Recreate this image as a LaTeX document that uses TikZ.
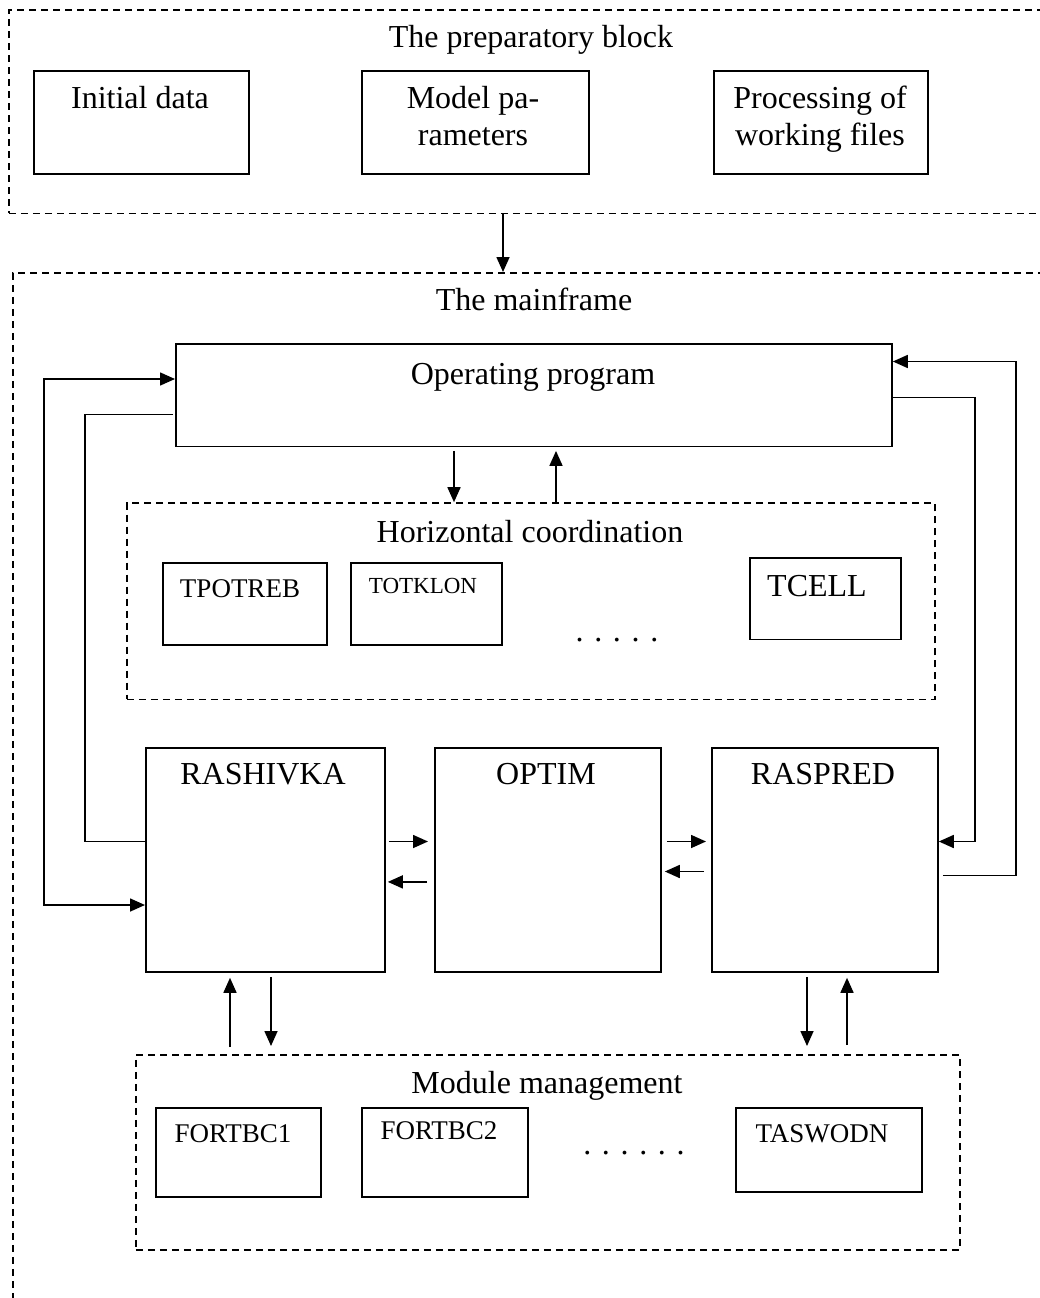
\documentclass[tikz,border=0pt]{standalone}
\usepackage{fontspec}
\setmainfont{Liberation Serif}
\usetikzlibrary{arrows.meta}
\begin{document}
\begin{tikzpicture}[x=1pt,y=-1pt,
  box/.style={draw,line width=1.8pt,inner sep=0pt,anchor=north west},
  grp/.style={draw,line width=1.5pt,dash pattern=on 7pt off 5pt,inner sep=0pt,anchor=north west},
  txt/.style={font=\fontsize{32}{37}\selectfont,inner sep=0pt,anchor=base},
  stxt/.style={font=\fontsize{27}{32}\selectfont,inner sep=0pt,anchor=base},
  tiny/.style={font=\fontsize{23}{27}\selectfont,inner sep=0pt,anchor=base},
  ln/.style={line width=1.8pt},
  arr/.style={line width=1.6pt,-{Triangle[length=15pt,width=13pt]}},
  dbl/.style={line width=1.6pt,{Triangle[length=15pt,width=13pt]}-{Triangle[length=15pt,width=13pt]}},
]
\useasboundingbox (0,0) rectangle (1040,1298);
\clip (0,0) rectangle (1040,1298);

% preparatory block
\node[grp,minimum width=1070pt,minimum height=203pt] (prep) at (8,9.5) {};
\node[txt] (prept) at (531,48) {The preparatory block};
\node[box,minimum width=215pt,minimum height=103pt] (init) at (33,70) {};
\node[txt] (initt) at (140,108) {Initial data};
\node[box,minimum width=227pt,minimum height=103pt] (model) at (361,70) {};
\node[txt] (modelt1) at (473,108) {Model pa-};
\node[txt] (modelt2) at (473,145) {rameters};
\node[box,minimum width=214pt,minimum height=103pt] (proc) at (713,70) {};
\node[txt] (proct1) at (820,108) {Processing of};
\node[txt] (proct2) at (820,145) {working files};

% mainframe
\node[grp,minimum width=1070pt,minimum height=1100pt] (main) at (12,272) {};
\node[txt] (maint) at (534,310) {The mainframe};
\coordinate (a1) at (503,0);
\draw[arr] (prep.south -| a1) -- (main.north -| a1);

% operating program
\node[box,minimum width=716pt,minimum height=102.6pt] (op) at (175,343) {};
\node[txt] (opt) at (533,384.4) {Operating program};

% horizontal coordination
\node[grp,minimum width=808pt,minimum height=196.3pt] (hc) at (126,502.2) {};
\node[txt] (hct) at (530,542) {Horizontal coordination};
\node[box,minimum width=164pt,minimum height=81.8pt] (tpot) at (162,562.2) {};
\node[stxt] (tpott) at (240,597.4) {TPOTREB};
\node[box,minimum width=151pt,minimum height=81.8pt] (totk) at (350,562.2) {};
\node[tiny] (totkt) at (423,593.7) {TOTKLON};
\node[txt] (hcdots) at (617,641) {. . . . .};
\node[box,minimum width=151pt,minimum height=81.8pt] (tcell) at (749,556.7) {};
\node[txt] (tcellt) at (817,596) {TCELL};

\coordinate (d1) at (454,0);
\coordinate (u1) at (556,0);
\draw[arr] ([yshift=-3.5pt]op.south -| d1) -- (hc.north -| d1);
\draw[arr] (hc.north -| u1) -- ([yshift=-3.5pt]op.south -| u1);

% main modules
\node[box,minimum width=239pt,minimum height=224.3pt] (rash) at (145,746.7) {};
\node[txt] (rasht) at (263,784.8) {RASHIVKA};
\node[box,minimum width=226pt,minimum height=224.3pt] (optim) at (434,746.7) {};
\node[txt] (optimt) at (546,784.8) {OPTIM};
\node[box,minimum width=226pt,minimum height=224.3pt] (rasp) at (711,746.7) {};
\node[txt] (raspt) at (823,784.8) {RASPRED};

% side loops
\coordinate (lo1) at (44,379);
\coordinate (lo2) at (44,905);
\draw[dbl] (op.west |- lo1) -- (lo1) -- (lo2) -- (rash.west |- lo2);
\coordinate (li1) at (85,414.4);
\coordinate (li2) at (85,841.5);
\draw[ln] ([xshift=-2pt]op.west |- li1) -- (li1) -- (li2) -- ([xshift=2pt]rash.west |- li2);
\coordinate (ri1) at (975,397.4);
\coordinate (ri2) at (975,841.5);
\draw[arr] (op.east |- ri1) -- (ri1) -- (ri2) -- (rasp.east |- ri2);
\coordinate (ro1) at (1016,875.6);
\coordinate (ro2) at (1016,361.5);
\draw[arr] ([xshift=4pt]rasp.east |- ro1) -- (ro1) -- (ro2) -- (op.east |- ro2);

% between modules
\coordinate (h1) at (0,841.5);
\coordinate (h2) at (0,881.9);
\coordinate (h3) at (0,871.5);
\draw[arr] ([xshift=3pt]rash.east |- h1) -- ([xshift=-6pt]optim.west |- h1);
\draw[arr] ([xshift=-7pt]optim.west |- h2) -- ([xshift=2pt]rash.east |- h2);
\draw[arr] ([xshift=5pt]optim.east |- h1) -- ([xshift=-5pt]rasp.west |- h1);
\draw[arr] ([xshift=-7pt]rasp.west |- h3) -- ([xshift=3pt]optim.east |- h3);

% module management
\node[grp,minimum width=824pt,minimum height=195pt] (mod) at (135,1054) {};
\node[txt] (modt) at (547,1093) {Module management};
\node[box,minimum width=165pt,minimum height=89pt] (f1) at (155,1107) {};
\node[stxt] (f1t) at (233,1142) {FORTBC1};
\node[box,minimum width=166pt,minimum height=89pt] (f2) at (361,1107) {};
\node[stxt] (f2t) at (439,1139) {FORTBC2};
\node[txt] (moddots) at (634,1154) {. . . . . .};
\node[box,minimum width=186pt,minimum height=84pt] (tasw) at (735,1107) {};
\node[stxt] (taswt) at (822,1142) {TASWODN};

\coordinate (v1) at (230,0);
\coordinate (v2) at (271,0);
\coordinate (v3) at (807,0);
\coordinate (v4) at (847,0);
\draw[arr] ([yshift=7pt]mod.north -| v1) -- ([yshift=-5pt]rash.south -| v1);
\draw[arr] ([yshift=-4pt]rash.south -| v2) -- ([yshift=8pt]mod.north -| v2);
\draw[arr] ([yshift=-4pt]rasp.south -| v3) -- ([yshift=8pt]mod.north -| v3);
\draw[arr] ([yshift=9pt]mod.north -| v4) -- ([yshift=-5pt]rasp.south -| v4);
\end{tikzpicture}
\end{document}
